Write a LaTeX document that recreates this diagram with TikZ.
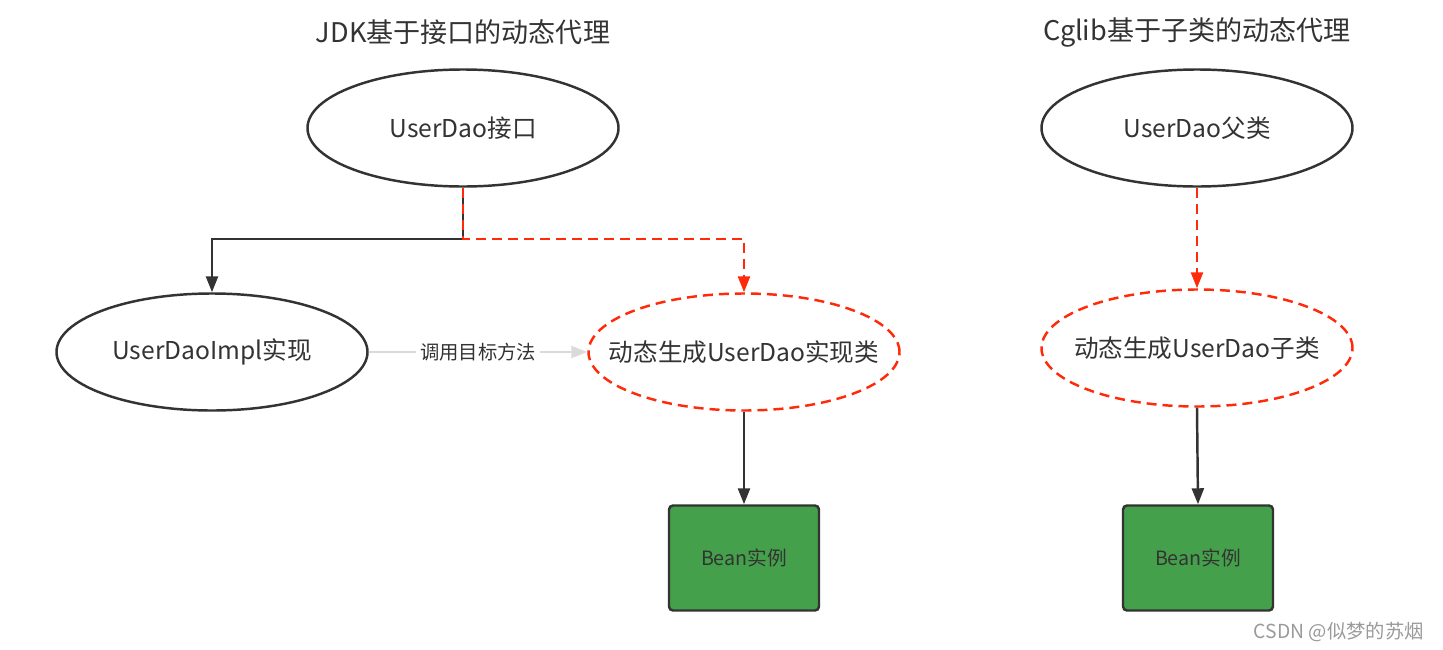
\documentclass[tikz,border=0pt]{standalone}
\usepackage{fontspec}
\setmainfont{Noto Sans CJK SC}
\usepackage{xcolor}
\usetikzlibrary{shapes.geometric,arrows.meta}

\definecolor{inkgray}{HTML}{333333}
\definecolor{proxyred}{HTML}{FF2A0A}
\definecolor{beangreen}{HTML}{44A04A}
\definecolor{callgray}{HTML}{DADADA}
\definecolor{markgray}{HTML}{9A9A9A}

\begin{document}
\begin{tikzpicture}[
    x=0.2mm, y=-0.2mm,
    title/.style={font=\fontsize{15.4}{17}\selectfont, text=inkgray},
    oval/.style={ellipse, draw=inkgray, line width=1.4pt, minimum width=6.22cm, minimum height=2.34cm, inner sep=0pt, inner xsep=-0.7cm, text=inkgray, font=\fontsize{14}{16}\selectfont},
    proxyoval/.style={oval, draw=proxyred, dash pattern=on 0.2cm off 0.12cm},
    bean/.style={rectangle, rounded corners=0.08cm, draw=inkgray, line width=1.4pt, fill=beangreen, minimum width=3cm, minimum height=2.1cm, text=inkgray, font=\fontsize{11.2}{13}\selectfont},
    link/.style={draw=inkgray, line width=1.4pt, -{Triangle[length=0.32cm,width=0.24cm]}},
    proxylink/.style={draw=proxyred, line width=1.4pt, dash pattern=on 0.2cm off 0.12cm, -{Triangle[length=0.32cm,width=0.24cm]}}
]
\useasboundingbox (0,0) rectangle (1443,650);

% Titles
\node[title] (jdktitle) at (463,32) {JDK基于接口的动态代理};
\node[title] (cgtitle) at (1197,32) {Cglib基于子类的动态代理};

% JDK side
\node[oval] (iface) at (463,128) {UserDao接口};
\node[oval] (impl) at (212,352) {UserDaoImpl实现};
\node[proxyoval] (jdkproxy) at (744,352) {动态生成UserDao实现类};
\node[bean] (jdkbean) at (744,558) {Bean实例};

% Cglib side
\node[oval] (parent) at (1197,128) {UserDao父类};
\node[proxyoval] (cgproxy) at (1197,348) {动态生成UserDao子类};
\node[bean] (cgbean) at (1198,558) {Bean实例};

% Connectors
\coordinate (split) at (463,239);
\draw[link] (iface.south) -- (split) -| (impl.north);
\draw[proxylink] (iface.south) -- (split) -| (jdkproxy.north);
\draw[draw=callgray, line width=1.4pt, -{Triangle[length=0.32cm,width=0.24cm]}] (impl.east) -- node[fill=white, inner sep=2pt, text=inkgray, font=\fontsize{11}{13}\selectfont] {调用目标方法} (jdkproxy.west);
\draw[link] (jdkproxy.south) -- (jdkbean.north);
\draw[proxylink] (parent.south) -- (cgproxy.north);
\draw[link] (cgproxy.south) -- (cgbean.north);

% Watermark
\node[text=markgray, font=\fontsize{11}{13}\selectfont, anchor=east] (mark) at (1430,632) {CSDN @似梦的苏烟};

\end{tikzpicture}
\end{document}
